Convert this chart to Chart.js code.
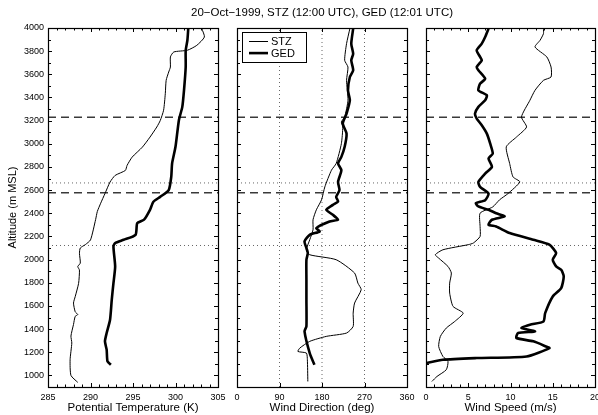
<!DOCTYPE html>
<html>
<head>
<meta charset="utf-8">
<script src="https://cdn.jsdelivr.net/npm/chart.js@4.4.0/dist/chart.umd.min.js"></script>
<style>
  html, body { margin: 0; padding: 0; background: #fff; }
  #wrap { position: relative; width: 598px; height: 415px; background: #fff; }
  #wrap canvas { position: absolute; left: 0; top: 0; }
</style>
</head>
<body>
<div id="wrap">
  <canvas id="theta" width="598" height="415"></canvas>
  <canvas id="dir" width="598" height="415"></canvas>
  <canvas id="speed" width="598" height="415"></canvas>
</div>
<script>
// Potential temperature (K) vs altitude (m MSL)
const stzThetaAlt = [940, 1000, 1135, 1280, 1340, 1440, 1510, 1525, 1550, 1625, 1680, 1795, 1910, 1940, 1970, 2055, 2100, 2130, 2170, 2345, 2415, 2487, 2570, 2670, 2727, 2770, 2813, 2885, 2971, 3058, 3145, 3200, 3290, 3433, 3548, 3620, 3663, 3750, 3793, 3808, 3850, 3922, 3994];
const stzTheta = [288.5, 287.7, 287.6, 287.8, 287.7, 288.0, 288.2, 288.5, 288.2, 288.0, 288.2, 288.6, 288.7, 288.5, 288.8, 288.7, 288.8, 289.4, 290.0, 290.6, 290.8, 291.2, 291.7, 292.3, 292.9, 294.1, 294.3, 294.9, 296.1, 297.0, 297.8, 298.2, 298.6, 298.8, 298.9, 299.2, 299.4, 299.4, 299.8, 301.4, 302.5, 303.4, 303.1];
const gedThetaAlt = [1092, 1121, 1222, 1294, 1366, 1481, 1653, 1797, 1941, 2114, 2143, 2171, 2214, 2315, 2345, 2430, 2500, 2542, 2600, 2715, 2830, 2974, 3204, 3319, 3462, 3663, 3807, 3894, 3994];
const gedTheta = [292.4, 292.0, 291.9, 291.7, 291.9, 292.3, 292.5, 292.7, 292.9, 292.7, 292.9, 293.9, 295.3, 295.5, 296.3, 297.0, 297.4, 298.2, 299.2, 299.5, 299.6, 300.0, 300.4, 300.8, 301.0, 301.2, 301.2, 301.4, 301.5];

// Wind direction (deg)
const stzDirAlt = [948, 1135, 1193, 1207, 1236, 1294, 1337, 1366, 1423, 1538, 1625, 1740, 1797, 1884, 1999, 2042, 2085, 2171, 2257, 2344, 2430, 2516, 2628, 2772, 2830, 3001, 3145, 3189, 3232, 3376, 3548, 3663, 3721, 3865, 3994];
const stzDir = [150, 149, 147, 129, 133, 154, 189, 232, 246, 246, 249, 263, 256, 249, 210, 154, 147, 154, 161, 161, 168, 179, 186, 200, 210, 221, 224, 221, 228, 235, 232, 235, 228, 232, 239];
const gedDirAlt = [1092, 1193, 1380, 1423, 1653, 1826, 1999, 2057, 2100, 2157, 2214, 2243, 2272, 2329, 2344, 2387, 2430, 2473, 2502, 2542, 2600, 2671, 2772, 2830, 2887, 2974, 3088, 3175, 3261, 3376, 3462, 3577, 3635, 3721, 3778, 3865, 3994];
const gedDir = [164, 154, 143, 147, 147, 147, 147, 150, 147, 143, 154, 175, 168, 196, 214, 203, 189, 203, 214, 210, 217, 214, 221, 214, 221, 228, 232, 224, 232, 239, 235, 239, 246, 242, 246, 242, 246];

// Wind speed (m/s)
const stzSpeedAlt = [948, 991, 1049, 1121, 1164, 1250, 1337, 1409, 1466, 1538, 1596, 1711, 1797, 1884, 1941, 2013, 2042, 2085, 2129, 2143, 2200, 2286, 2401, 2455, 2516, 2570, 2671, 2714, 2830, 2974, 3058, 3145, 3232, 3376, 3462, 3548, 3577, 3663, 3750, 3836, 3894, 3951, 3994];
const stzSpeed = [0.7, 1.3, 2.4, 2.6, 2.0, 1.5, 1.7, 2.4, 3.4, 4.4, 3.2, 2.8, 2.8, 3.0, 2.6, 1.5, 1.1, 2.0, 5.0, 5.6, 6.4, 6.4, 6.4, 7.9, 8.7, 9.7, 11.1, 10.3, 9.9, 9.5, 10.7, 11.9, 11.3, 12.3, 12.9, 13.9, 14.8, 14.8, 14.3, 12.9, 13.5, 13.9, 13.9];
const gedSpeedAlt = [1105, 1135, 1150, 1164, 1236, 1250, 1294, 1323, 1366, 1380, 1409, 1438, 1466, 1538, 1682, 1754, 1855, 1912, 1941, 1999, 2057, 2129, 2171, 2229, 2286, 2301, 2344, 2373, 2401, 2430, 2459, 2487, 2513, 2570, 2628, 2671, 2743, 2801, 2873, 2916, 3001, 3088, 3160, 3218, 3261, 3319, 3376, 3419, 3462, 3519, 3562, 3635, 3663, 3721, 3750, 3807, 3865, 3922, 3994];
const gedSpeed = [0.0, 2.0, 6.0, 11.9, 14.6, 14.2, 12.7, 10.7, 10.9, 12.9, 11.3, 12.3, 13.9, 14.1, 15.0, 16.0, 16.3, 16.0, 15.4, 15.0, 15.4, 14.6, 12.7, 9.9, 8.3, 7.4, 7.8, 9.3, 8.3, 7.4, 6.2, 5.9, 7.0, 7.4, 6.4, 6.2, 7.0, 7.8, 7.4, 7.9, 7.6, 7.2, 6.6, 6.0, 5.8, 6.2, 7.0, 7.2, 6.2, 6.4, 7.0, 6.2, 6.0, 6.6, 6.4, 6.0, 6.6, 7.0, 7.4];

// reference levels (m) and direction grid (deg)
const dashedLevels = [3230, 2578];
const dottedLevels = [2662, 2122];
const dirGrid = [90, 180, 270];

const altMin = 900;
const altMax = 4000;
const figTitle = "20\u2212Oct\u22121999, STZ (12:00 UTC), GED (12:01 UTC)";

const fontFamily = "'Liberation Sans', Arial, Helvetica, sans-serif";
Chart.defaults.font.family = fontFamily;
Chart.defaults.font.size = 9;
Chart.defaults.color = "#000";

function toPoints(xs, alts) {
    return alts.map((a, i) => ({ x: xs[i], y: a }));
}

function profile(label, xs, alts, width) {
    return {
        label: label,
        data: toPoints(xs, alts),
        borderColor: "#000",
        borderWidth: width,
        showLine: true,
        pointRadius: 0,
        tension: 0.2,
    };
}

// horizontal reference lines spanning the x range of a panel
function levelLines(xMin, xMax) {
    const sets = [];
    dashedLevels.forEach((v) => {
        sets.push({
            data: [{ x: xMin, y: v }, { x: xMax, y: v }],
            borderColor: "#3a3a3a", borderWidth: 1.5, borderDash: [8, 5],
            showLine: true, pointRadius: 0,
        });
    });
    dottedLevels.forEach((v) => {
        sets.push({
            data: [{ x: xMin, y: v }, { x: xMax, y: v }],
            borderColor: "#666", borderWidth: 1, borderDash: [1, 3],
            showLine: true, pointRadius: 0,
        });
    });
    return sets;
}

// MATLAB style box with inward tick marks
const frameTicks = {
    id: "frameTicks",
    afterDatasetsDraw(chart) {
        const { ctx, chartArea: a, scales } = chart;
        ctx.save();
        ctx.strokeStyle = "#000";
        ctx.lineWidth = 1;
        ctx.beginPath();
        scales.x.ticks.forEach((t) => {
            const px = Math.round(scales.x.getPixelForValue(t.value)) + 0.5;
            const len = t.label !== "" ? 4 : 2.5;
            ctx.moveTo(px, a.bottom); ctx.lineTo(px, a.bottom - len);
            ctx.moveTo(px, a.top); ctx.lineTo(px, a.top + len);
        });
        scales.y.ticks.forEach((t) => {
            const py = Math.round(scales.y.getPixelForValue(t.value)) + 0.5;
            const len = t.label !== "" ? 4 : 3;
            ctx.moveTo(a.left, py); ctx.lineTo(a.left + len, py);
            ctx.moveTo(a.right, py); ctx.lineTo(a.right - len, py);
        });
        ctx.stroke();
        ctx.lineWidth = 1.2;
        ctx.strokeRect(Math.round(a.left) + 0.5, Math.round(a.top) + 0.5,
            Math.round(a.right - a.left), Math.round(a.bottom - a.top));
        ctx.restore();
    },
};

// figure title centred over the middle panel (no width squeeze)
const figureTitle = {
    id: "figureTitle",
    afterDraw(chart) {
        const { ctx, chartArea: a } = chart;
        ctx.save();
        ctx.fillStyle = "#000";
        ctx.font = "11.5px " + fontFamily;
        ctx.textAlign = "center";
        ctx.textBaseline = "middle";
        ctx.fillText(figTitle, (a.left + a.right) / 2, 13);
        ctx.restore();
    },
};

// small legend box inside the direction panel
const legendBox = {
    id: "legendBox",
    afterDraw(chart) {
        const { ctx, chartArea: a } = chart;
        const x0 = a.left + 5, y0 = a.top + 4;
        ctx.save();
        ctx.fillStyle = "#fff";
        ctx.fillRect(x0, y0, 64, 30);
        ctx.strokeStyle = "#000";
        ctx.lineWidth = 1;
        ctx.strokeRect(x0 + 0.5, y0 + 0.5, 64, 30);
        const items = chart.data.datasets.filter((d) => d.label);
        items.forEach((d, i) => {
            const y = y0 + 9.5 + i * 11.6;
            ctx.beginPath();
            ctx.lineWidth = d.borderWidth;
            ctx.moveTo(x0 + 7, y);
            ctx.lineTo(x0 + 26, y);
            ctx.stroke();
            ctx.fillStyle = "#000";
            ctx.font = "11px " + fontFamily;
            ctx.textBaseline = "middle";
            ctx.fillText(d.label, x0 + 29, y + 0.5);
        });
        ctx.restore();
    },
};

function xAxis(min, max, step, major, title) {
    return {
        type: "linear",
        min: min,
        max: max,
        grid: { display: false, drawTicks: false },
        border: { display: false },
        ticks: {
            stepSize: step,
            autoSkip: false,
            maxRotation: 0,
            padding: 5,
            callback: (v) => (v % major === 0 ? String(v) : ""),
        },
        title: {
            display: true,
            text: title,
            font: { size: 11.5 },
            padding: { top: 0, bottom: 0 },
        },
        afterFit: (scale) => {
            scale.height = 28;
            scale.paddingLeft = 0;
            scale.paddingRight = 0;
        },
    };
}

function yAxis(showLabels) {
    return {
        type: "linear",
        min: altMin,
        max: altMax,
        grid: { display: false, drawTicks: false },
        border: { display: false },
        ticks: {
            display: showLabels,
            stepSize: 100,
            autoSkip: false,
            padding: 4,
            callback: (v) => (v % 200 === 0 ? String(v) : ""),
        },
        title: {
            display: showLabels,
            text: "Altitude (m MSL)",
            font: { size: 11 },
            padding: { top: 6, bottom: 0 },
        },
        afterFit: (scale) => {
            scale.width = showLabels ? 48 : 0;
            scale.paddingTop = 0;
            scale.paddingBottom = 0;
        },
    };
}

const baseOptions = {
    responsive: false,
    animation: false,
    events: [],
    plugins: { legend: { display: false }, tooltip: { enabled: false } },
};

// Panel 1: potential temperature
new Chart(document.getElementById("theta"), {
    type: "scatter",
    data: {
        datasets: [
            profile("STZ", stzTheta, stzThetaAlt, 1),
            profile("GED", gedTheta, gedThetaAlt, 2.6),
            ...levelLines(285, 305),
        ],
    },
    options: {
        ...baseOptions,
        layout: { padding: { left: 0, right: 380, top: 28, bottom: 0 } },
        scales: {
            x: xAxis(285, 305, 1, 5, "Potential Temperature (K)"),
            y: yAxis(true),
        },
    },
    plugins: [frameTicks],
});

// Panel 2: wind direction
const dirGridSets = dirGrid.map((v) => ({
    data: [{ x: v, y: altMin }, { x: v, y: altMax }],
    borderColor: "#666", borderWidth: 1, borderDash: [1, 3],
    showLine: true, pointRadius: 0,
}));

new Chart(document.getElementById("dir"), {
    type: "scatter",
    data: {
        datasets: [
            profile("STZ", stzDir, stzDirAlt, 1),
            profile("GED", gedDir, gedDirAlt, 2.6),
            ...levelLines(0, 360),
            ...dirGridSets,
        ],
    },
    options: {
        ...baseOptions,
        layout: { padding: { left: 237, right: 191, top: 28, bottom: 0 } },
        scales: {
            x: xAxis(0, 360, 90, 90, "Wind Direction (deg)"),
            y: yAxis(false),
        },
    },
    plugins: [frameTicks, legendBox, figureTitle],
});

// Panel 3: wind speed
new Chart(document.getElementById("speed"), {
    type: "scatter",
    data: {
        datasets: [
            profile("STZ", stzSpeed, stzSpeedAlt, 1),
            profile("GED", gedSpeed, gedSpeedAlt, 2.6),
            ...levelLines(0, 20),
        ],
    },
    options: {
        ...baseOptions,
        layout: { padding: { left: 426, right: 3, top: 28, bottom: 0 } },
        scales: {
            x: xAxis(0, 20, 1, 5, "Wind Speed (m/s)"),
            y: yAxis(false),
        },
    },
    plugins: [frameTicks],
});
</script>
</body>
</html>
